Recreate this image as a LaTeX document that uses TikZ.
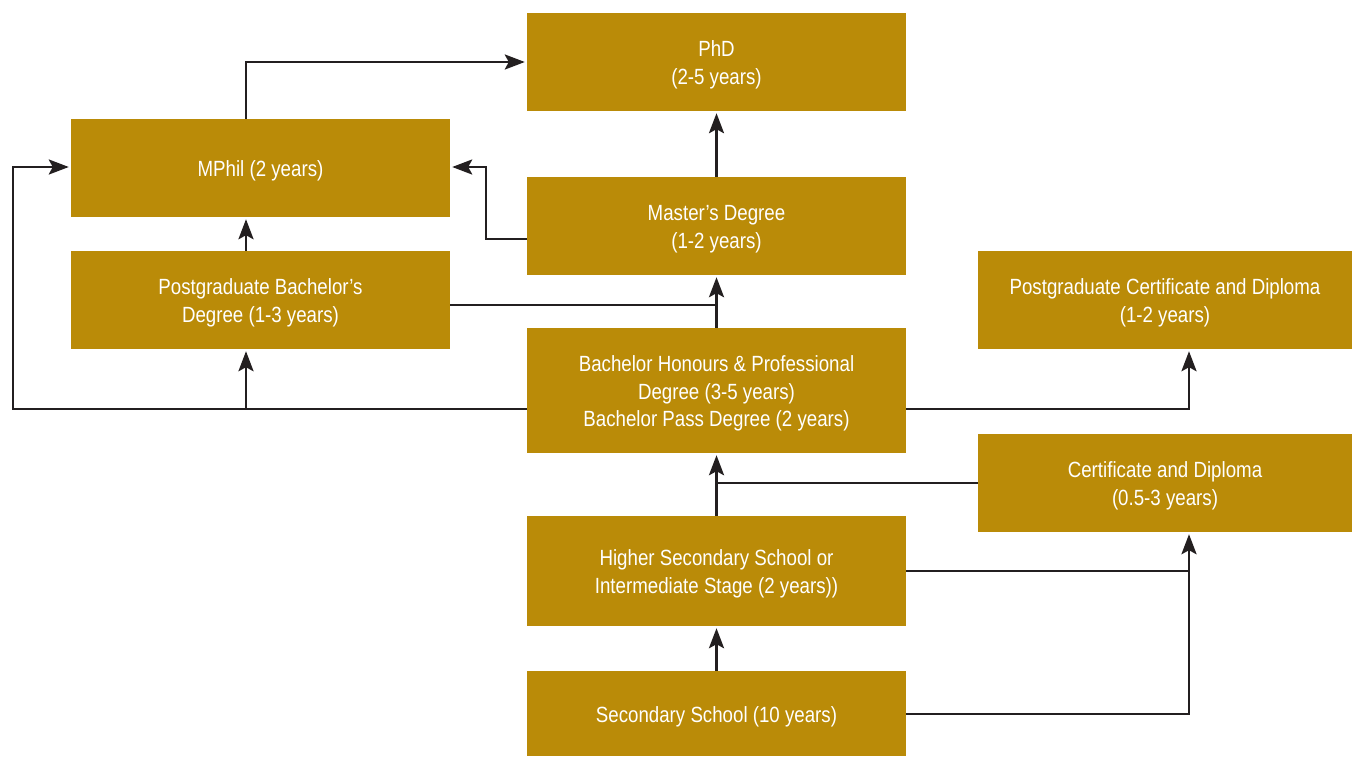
\documentclass[tikz,border=0pt]{standalone}
\usepackage{fontspec}
\setmainfont{Liberation Sans}[FakeStretch=0.85]
\usetikzlibrary{arrows.meta}
\definecolor{gold}{HTML}{BA8B08}
\definecolor{ink}{HTML}{231F20}
\tikzset{
  box/.style={fill=gold, inner sep=0pt},
  txt/.style={text=white, align=center, inner sep=0pt,
    font=\fontsize{22}{27.5}\selectfont},
  link/.style={draw=ink, line width=2.8pt},
  arr/.style={link, -{Stealth[length=20pt,width=15pt,inset=4pt]}, shorten >=2pt}
}
\begin{document}
\begin{tikzpicture}[x=1pt,y=-1pt]
\useasboundingbox (0,0) rectangle (1352,756);
% boxes
\node[box, minimum width=379pt, minimum height=98pt] (phd) at (716.5,62) {};
\node[box, minimum width=379pt, minimum height=98pt] (mphil) at (260.5,168) {};
\node[box, minimum width=379pt, minimum height=98pt] (master) at (716.5,226) {};
\node[box, minimum width=379pt, minimum height=98pt] (pgb) at (260.5,300) {};
\node[box, minimum width=374pt, minimum height=98pt] (pgcd) at (1165,300) {};
\node[box, minimum width=379pt, minimum height=125pt] (bach) at (716.5,390.5) {};
\node[box, minimum width=374pt, minimum height=98pt] (cd) at (1165,483) {};
\node[box, minimum width=379pt, minimum height=110pt] (hss) at (716.5,571) {};
\node[box, minimum width=379pt, minimum height=85pt] (ss) at (716.5,713.5) {};
% texts
\node[txt] (tphd) at ([yshift=-3pt]phd.center) {PhD\\(2-5 years)};
\node[txt] (tmphil) at ([yshift=-3pt]mphil.center) {MPhil (2 years)};
\node[txt] (tmaster) at ([yshift=-3pt]master.center) {Master’s Degree\\(1-2 years)};
\node[txt] (tpgb) at ([yshift=-3pt]pgb.center) {Postgraduate Bachelor’s\\Degree (1-3 years)};
\node[txt] (tpgcd) at ([yshift=-3pt]pgcd.center) {Postgraduate Certificate and Diploma\\(1-2 years)};
\node[txt] (tbach) at ([yshift=-3pt]bach.center) {Bachelor Honours \& Professional\\Degree (3-5 years)\\Bachelor Pass Degree (2 years)};
\node[txt] (tcd) at ([yshift=-3pt]cd.center) {Certificate and Diploma\\(0.5-3 years)};
\node[txt] (thss) at ([yshift=-3pt]hss.center) {Higher Secondary School or\\Intermediate Stage (2 years))};
\node[txt] (tss) at ([yshift=-3pt]ss.center) {Secondary School (10 years)};
% coordinates
\coordinate (jm) at (716,305);
\coordinate (jc) at (716,483);
\coordinate (jl) at (246,409);
\coordinate (jr) at (1189,571);
% connectors
\draw[arr] (mphil.north -| jl) |- (phd.west |- 0,62);
\draw[arr] (master.north) -- (phd.south);
\draw[arr] (master.west |- 0,239) -| (486,167) -- (mphil.east |- 0,167);
\draw[arr] (pgb.north -| jl) -- (mphil.south -| jl);
\draw[link] (pgb.east |- jm) -- (jm);
\draw[arr] (bach.north) -- (master.south);
\draw[arr] (bach.west |- jl) -| (13,167) -- (mphil.west |- 0,167);
\draw[arr] (jl) -- (pgb.south -| jl);
\draw[arr] (bach.east |- jl) -| (pgcd.south -| jr);
\draw[arr] (hss.north) -- (bach.south);
\draw[link] (cd.west) -- (jc);
\draw[arr] (hss.east |- jr) -| (cd.south -| jr);
\draw[link] (ss.east |- 0,714) -| (jr);
\draw[arr] (ss.north) -- (hss.south);
\end{tikzpicture}
\end{document}
